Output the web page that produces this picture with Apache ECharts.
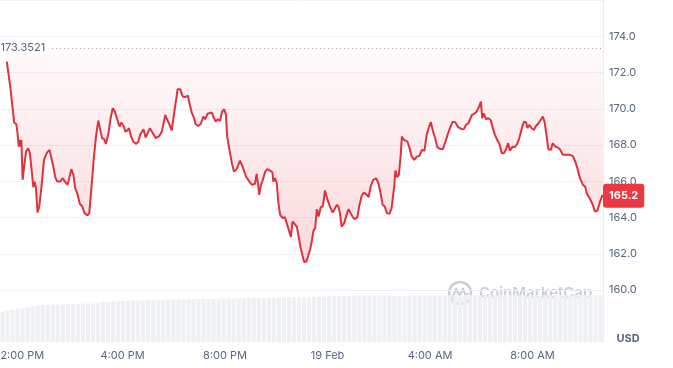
<!DOCTYPE html>
<html><head><meta charset="utf-8">
<script src="https://cdn.jsdelivr.net/npm/echarts@6/dist/echarts.min.js"></script>
<style>html,body{margin:0;padding:0;background:#fff}#c{width:673px;height:368px}</style>
</head><body><div id="c"></div>
<script>
// minutes relative to 12:00 PM, 18 Feb
const times = [
 -31,-23,-17,-14,-9,-6,-3,0,2,3,
 6,9,14,19,23,27,31,34,37,41,
 45,51,56,63,69,72,77,82,87,94,
 100,105,111,115,120,125,129,134,140,145,
 151,158,162,168,173,178,183,187,192,197,
 201,207,212,217,222,228,233,237,244,
 246,251,255,260,265,272,277,281,289,294,
 298,304,311,318,326,332,340,343,350,355,
 363,369,375,381,386,393,398,402,406,411,
 417,423,429,433,439,443,449,453,458,463,
 468,473,478,482,485,490,496,501,507,515,521,
 529,537,543,550,554,558,560,564,568,574,
 579,585,591,593,597,601,605,609,615,620,
 624,628,634,638,642,648,653,657,662,665,
 670,675,679,683,687,691,695,699,704,709,
 714,720,726,732,736,742,746,749,753,759,
 763,769,774,779,784,790,794,
 800,805,812,816,821,827,834,839,
 845,849,854,859,865,870,876,879,883,887,
 891,894,899,907,912,917,923,929,935,941,
 947,952,958,962,966,972,977,983,990,995,
 1001,1005,1008,1013,1019,1026,1034,1040,1044,1050,
 1058,1063,1069,1075,1079,
 1082,1086,1091,1096,1102,1107,1112,1118,1122,1128,
 1133,1138,1143,1147,1153,1158,1163,1169,1175,1180,
 1185,1188,1192,1198,1203,1208,1214,1219,1224,1228,
 1232,1237,1243,1247,1253,1258,1264,1271,1278,1286,
 1294,1300,1305,1311,1318,1323,1327,1335,1341,1346,
 1352,1358,1364
];
const prices = [
 172.60,171.22,169.94,169.24,169.16,168.65,167.91,168.28,167.91,168.28,
 166.08,166.72,167.64,167.82,167.55,166.63,165.67,165.98,165.67,164.27,
 164.61,165.90,167.18,167.58,167.73,167.64,166.90,166.26,165.98,165.98,
 166.17,165.98,165.80,166.17,166.67,166.35,165.62,165.34,164.75,164.64,
 164.24,164.11,164.24,165.90,167.36,168.50,169.35,169.42,168.38,168.32,
 168.06,168.65,169.48,170.03,169.84,169.38,169.02,169.24,168.98,
 168.74,168.80,168.93,168.46,168.19,168.06,168.19,168.56,168.87,168.41,
 168.46,168.93,168.65,168.38,168.50,168.74,169.66,169.48,169.11,168.80,
 170.12,171.08,171.08,170.67,170.64,170.72,170.16,169.79,169.57,169.16,
 169.05,169.16,169.57,169.42,169.72,169.75,169.79,169.53,169.29,169.42,
 169.33,169.84,169.97,169.66,168.46,167.77,167.00,166.53,166.67,167.14,166.81,
 166.26,165.98,165.80,165.86,166.41,165.71,165.25,165.80,166.04,166.53,
 166.67,166.59,166.48,165.98,166.17,165.90,164.79,164.15,163.97,164.02,
 163.91,163.41,162.92,163.78,163.83,163.50,162.86,162.31,161.85,161.54,
 161.57,161.89,162.22,162.68,163.28,163.41,164.46,164.05,164.57,164.61,
 165.49,164.97,164.57,164.27,164.24,164.70,164.57,164.24,163.50,163.69,
 164.02,164.46,164.24,164.02,163.91,164.02,164.61,
 165.20,165.38,165.25,165.12,165.71,166.08,166.15,165.90,
 165.25,164.70,164.61,164.24,164.20,164.52,165.71,166.59,166.23,166.35,
 167.36,168.46,168.28,168.19,167.82,167.36,167.18,167.36,167.40,167.73,
 167.68,168.56,169.02,169.26,168.83,168.38,167.88,167.79,167.77,168.10,
 168.56,168.83,168.80,169.29,169.26,168.98,168.87,168.89,169.11,169.20,
 169.66,169.72,169.84,170.12,170.39,
 169.48,169.75,169.42,169.48,169.38,168.93,168.56,168.24,168.10,167.55,
 167.55,167.77,168.10,167.68,167.91,167.88,168.01,168.38,168.93,169.29,
 169.24,168.93,169.11,168.93,168.83,169.05,169.20,169.38,169.57,169.29,
 168.65,167.77,167.73,168.10,167.91,167.88,167.77,167.46,167.46,167.46,
 167.40,167.09,166.72,166.17,165.80,165.71,165.34,165.01,164.70,164.33,
 164.38,164.88,165.25
];
// relative volume (arbitrary units, 0-100)
const volume = [
 58,60,62,64,65,66,68,70,71,71,
 72,72,72,73,73,73,74,74,74,75,
 77,77,78,78,79,79,80,80,80,81,
 81,81,81,82,82,82,82,82,83,83,
 83,83,83,83,84,84,84,84,84,85,
 85,85,85,85,85,85,85,86,86,86,
 86,86,87,87,87,88,88,88,89,89,
 90,90,90,90,90,90,90,90,89,89,
 89,90,90,90,90,90,90,90,90,90,
 90,90,90,90,90,90,90,91,91,91,
 90,90,90,90,90,90,90,90,90,90,
 90,90,90,90,90,90,90,90,90,90
];
const xTickValues = [0,240,480,720,960,1200];
const xTickLabels = ['12:00 PM','4:00 PM','8:00 PM','19 Feb','4:00 AM','8:00 AM'];
const openPrice = 173.3521;
const lastPrice = 165.2;
const xMin = -47, xMax = 1365;
const yMin = 160, yMax = 176, yStep = 2;

const RED = '#ea3943';
const LINE = '#e0313f';
const TXT = '#58667e';
const GRIDC = '#eff1f4';
const FONT = 'Inter, "Noto Sans", sans-serif';
const WM = '#c9ced6';

const chart = echarts.init(document.getElementById('c'), null, {renderer:'canvas'});
chart.setOption({
  animation: false,
  backgroundColor: '#fff',
  textStyle: {fontFamily: FONT},
  grid: [
    {left: 0, right: 70, top: 0, height: 290, containLabel: false, outerBoundsMode: 'none'},
    {left: 0, right: 70, top: 290, height: 52, containLabel: false, outerBoundsMode: 'none'}
  ],
  xAxis: [
    {type: 'value', gridIndex: 0, min: xMin, max: xMax,
     axisLine: {show: false, onZero: false}, axisTick: {show: false}, splitLine: {show: false},
     axisLabel: {customValues: xTickValues, margin: 60, color: TXT, fontSize: 11, fontFamily: FONT,
       formatter: v => xTickLabels[xTickValues.indexOf(v)] || ''}},
    {type: 'category', gridIndex: 1, data: volume.map((_, i) => i), show: false}
  ],
  yAxis: [
    {type: 'value', gridIndex: 0, position: 'right', min: yMin, max: yMax, interval: yStep,
     axisLine: {show: true, onZero: false, lineStyle: {color: '#e9ecf0', width: 1}},
     axisTick: {show: false},
     splitLine: {show: true, lineStyle: {color: GRIDC, width: 1}},
     axisLabel: {margin: 6, color: TXT, fontSize: 11, fontFamily: FONT,
       formatter: v => (v >= yMax ? '' : v.toFixed(1))}},
    {type: 'value', gridIndex: 1, position: 'right', min: 0, max: 100,
     axisLine: {show: true, onZero: false, lineStyle: {color: '#e9ecf0', width: 1}},
     axisTick: {show: false}, axisLabel: {show: false}, splitLine: {show: false}}
  ],
  series: [
    {type: 'bar', xAxisIndex: 1, yAxisIndex: 1, data: volume, barCategoryGap: '18%',
     itemStyle: {color: '#eef0f4'}, silent: true},
    {type: 'line', xAxisIndex: 0, yAxisIndex: 0, z: 5, clip: false,
     data: times.map((t, i) => [t, prices[i]]),
     symbol: 'none', showSymbol: false,
     lineStyle: {color: LINE, width: 2},
     itemStyle: {color: LINE},
     areaStyle: {origin: openPrice,
       color: new echarts.graphic.LinearGradient(0, 0, 0, 1, [
         {offset: 0, color: 'rgba(234,57,67,0.03)'},
         {offset: 1, color: 'rgba(234,57,67,0.28)'}
       ])},
     markLine: {
       silent: true, symbol: 'none', animation: false,
       data: [
         [
           {coord: [75, openPrice], lineStyle: {color: '#9aa2ae', type: [1, 3], width: 1},
            label: {show: true, position: 'start', distance: 7, color: TXT, fontSize: 11, fontFamily: FONT,
              formatter: () => String(openPrice)}},
           {coord: [xMax, openPrice]}
         ],
         {yAxis: lastPrice, lineStyle: {color: 'rgba(0,0,0,0)', width: 0},
          label: {show: true, position: 'end', distance: 0, color: '#fff', fontWeight: 'bold',
            fontSize: 11, fontFamily: FONT, backgroundColor: RED, borderRadius: 3,
            padding: [7, 6, 6, 6], formatter: () => lastPrice.toFixed(1)}}
       ]
     }}
  ],
  graphic: [
    {type: 'text', x: 628, y: 339, z: 100,
     style: {text: 'USD', fill: TXT, font: 'bold 11px ' + FONT, align: 'center', verticalAlign: 'middle'}},
    {type: 'group', z: 100, children: [
      {type: 'circle', shape: {cx: 460, cy: 293, r: 11}, style: {fill: 'none', stroke: WM, lineWidth: 2.4}},
      {type: 'polyline', shape: {points: [[452.5, 298], [456, 288.5], [459.5, 296], [463, 288.5], [465.5, 295], [468, 293.5]]},
       style: {fill: 'none', stroke: WM, lineWidth: 2, lineJoin: 'round', lineCap: 'round'}},
      {type: 'text', x: 479, y: 293,
       style: {text: 'CoinMarketCap', fill: WM, font: '600 15px ' + FONT, verticalAlign: 'middle'}}
    ]}
  ]
});
</script>
</body></html>
